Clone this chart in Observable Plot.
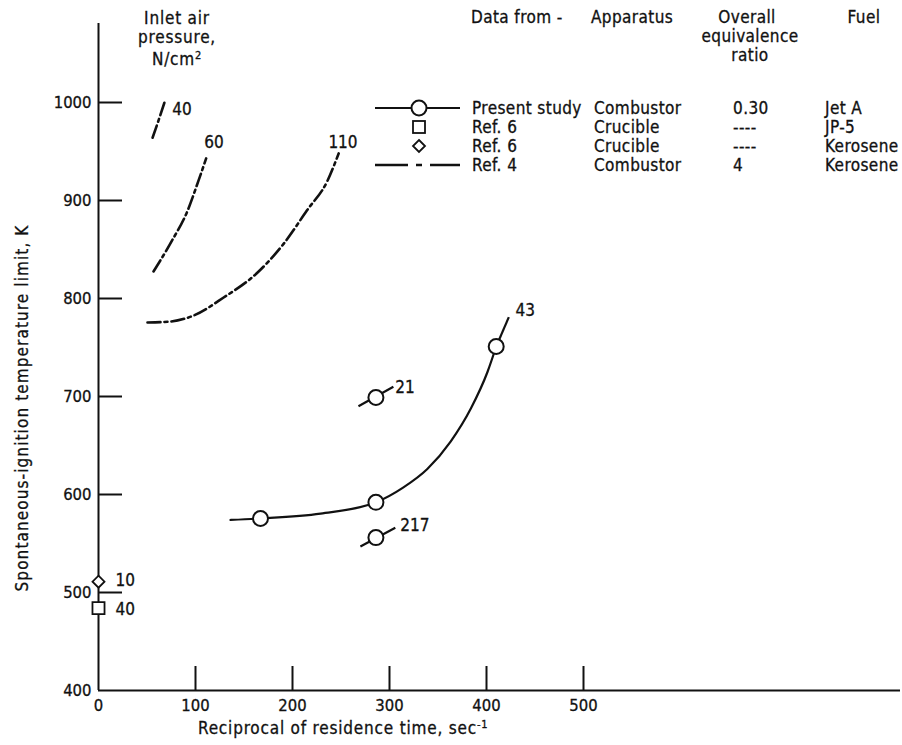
<!DOCTYPE html>
<html><head><meta charset="utf-8">
<script src="https://cdn.jsdelivr.net/npm/d3@7"></script>
<script src="https://cdn.jsdelivr.net/npm/@observablehq/plot@0.6"></script>
<style>
body{margin:0;background:#fff;}
#wrap{position:relative;width:902px;height:745px;background:#fff;font-family:"DejaVu Sans Condensed","Liberation Sans Narrow",sans-serif;color:#111;overflow:hidden;}
.t{position:absolute;white-space:nowrap;font-size:17px;line-height:1;letter-spacing:0.8px;-webkit-text-stroke:0.3px #111;}
.t.lg{letter-spacing:0.4px;}
.t sup{font-size:11px;position:relative;top:-1px;vertical-align:top;line-height:1;}
#lg{position:absolute;left:0;top:0;}
svg text{stroke:#111;stroke-width:0.3px;}
</style></head><body><div id="wrap"></div>
<script>
// ---- axis ticks ----
const xTicks = [0, 100, 200, 300, 400, 500];
const yTicks = [400, 500, 600, 700, 800, 900, 1000];

// ---- Present study (Jet A combustor), circles ----
const presentPtX = [167, 286, 410, 286, 286];
const presentPtY = [575.5, 592, 751, 699, 556];
// faired curve through present-study points
const presentCurveX = [136, 167, 229, 286, 314, 339, 363, 384, 401, 410];
const presentCurveY = [574, 575.5, 580.5, 592, 607, 626, 654, 688, 725, 751];
// pressure-tag tails on points (x1,y1 -> x2,y2)
const tailX1 = [268, 270, 410];
const tailY1 = [690, 547, 751];
const tailX2 = [304, 306, 423];
const tailY2 = [710, 566, 781];

// ---- Ref. 6 crucible ----
const squareX = [0], squareY = [484];     // JP-5
const diamondX = [0], diamondY = [511];   // Kerosene

// ---- Ref. 4 combustor curves, by inlet pressure ----
const ref4P40X = [55.7, 62, 68];
const ref4P40Y = [964, 982, 1000];
const ref4P60X = [56.7, 74, 92, 103, 111];
const ref4P60Y = [827.6, 856, 890, 920, 943];
const ref4P110X = [50.5, 74, 98, 129, 164, 191, 215, 236, 247.6];
const ref4P110Y = [775.5, 776.5, 782.6, 801, 826.5, 856, 890, 920, 948];

// ---- pressure labels, N/cm2 ----
const pLabelText = ["40", "60", "110", "43", "21", "217", "10", "40"];
const pLabelX = [76, 109, 237, 430, 306, 311, 17.5, 17.5];
const pLabelY = [993, 959, 959, 788, 709, 568, 512, 483];

// build tables
const zip = (xs, ys, extra = {}) => xs.map((x, i) => ({x, y: ys[i], ...extra}));
const ref4 = [
  ...zip(ref4P40X, ref4P40Y, {p: 40}),
  ...zip(ref4P60X, ref4P60Y, {p: 60}),
  ...zip(ref4P110X, ref4P110Y, {p: 110})
];
const presentCurve = zip(presentCurveX, presentCurveY);
const presentPts = zip(presentPtX, presentPtY);
const tails = tailX1.map((x1, i) => ({x1, y1: tailY1[i], x2: tailX2[i], y2: tailY2[i]}));
const labels = pLabelText.map((t, i) => ({t, x: pLabelX[i], y: pLabelY[i]}));

const W = 902, H = 745;
const mL = 98, mR = 2, mT = 23, mB = 55;
const pxX = 0.97, pxY = 0.98; // px per unit, from reference
const xMax = (W - mL - mR) / pxX;
const yMax = 400 + (H - mT - mB) / pxY;
const FONT = '"DejaVu Sans Condensed","Liberation Sans Narrow",sans-serif';

const chart = Plot.plot({
  width: W, height: H,
  marginLeft: mL, marginRight: mR, marginTop: mT, marginBottom: mB,
  style: {fontFamily: FONT, fontSize: "16px", background: "white", color: "#111", overflow: "visible"},
  x: {domain: [0, xMax]},
  y: {domain: [400, yMax]},
  marks: [
    Plot.ruleY([400], {strokeWidth: 2}),
    Plot.ruleX([0], {strokeWidth: 2}),
    Plot.ruleX(xTicks.slice(1), {x: d => d, y1: 400, y2: 400 + 24 / pxY, strokeWidth: 2}),
    Plot.ruleY(yTicks.slice(1), {y: d => d, x1: 0, x2: 24 / pxX, strokeWidth: 2}),
    Plot.axisX({ticks: xTicks, tickSize: 0, tickPadding: 9, tickFormat: d => String(d), label: null, fontSize: 16.5}),
    Plot.axisY({ticks: yTicks, tickSize: 0, tickPadding: 7, tickFormat: d => String(d), label: null, fontSize: 16.5}),
    Plot.line(ref4, {x: "x", y: "y", z: "p", curve: "monotone-x", stroke: "#111", strokeWidth: 2.6, strokeDasharray: "13,4,3,4"}),
    Plot.line(presentCurve, {x: "x", y: "y", curve: "monotone-x", stroke: "#111", strokeWidth: 2.2}),
    Plot.link(tails, {x1: "x1", y1: "y1", x2: "x2", y2: "y2", stroke: "#111", strokeWidth: 2.2}),
    Plot.dot(presentPts, {x: "x", y: "y", r: 7.5, fill: "white", stroke: "#111", strokeWidth: 2}),
    Plot.dot(zip(squareX, squareY), {x: "x", y: "y", symbol: "square", r: 6.8, fill: "white", stroke: "#111", strokeWidth: 1.8}),
    Plot.dot(zip(diamondX, diamondY), {x: "x", y: "y", symbol: "diamond2", r: 5.4, fill: "white", stroke: "#111", strokeWidth: 1.8}),
    Plot.text(labels, {x: "x", y: "y", text: "t", textAnchor: "start", fontSize: 17, fill: "#111"})
  ]
});

const wrap = document.getElementById("wrap");
wrap.appendChild(chart);

// ---- overlay texts (titles, legend table) ----
function put(html, x, y, anchor = "start", cls = "") {
  const d = document.createElement("div");
  d.className = "t" + (cls ? " " + cls : "");
  d.innerHTML = html;
  const tx = anchor === "middle" ? "-50%" : anchor === "end" ? "-100%" : "0";
  d.style.left = x + "px";
  d.style.top = y + "px";
  d.style.transform = `translate(${tx},-50%)`;
  wrap.appendChild(d);
  return d;
}
put("Inlet air", 177, 18, "middle");
put("pressure,", 177, 37, "middle");
put("N/cm<sup>2</sup>", 177, 59, "middle");

put("Reciprocal of residence time, sec<sup>-1</sup>", 198, 728);
// rotated y title
const yt = document.createElement("div");
yt.className = "t";
yt.textContent = "Spontaneous-ignition temperature limit, K";
yt.style.left = "22px"; yt.style.top = "408px";
yt.style.letterSpacing = "1.1px";
yt.style.transform = "translate(-50%,-50%) rotate(-90deg)";
wrap.appendChild(yt);

// legend headers
put("Data from -", 471, 17, "start", "lg");
put("Apparatus", 591, 17, "start", "lg");
put("Overall", 747, 17, "middle", "lg");
put("equivalence", 750, 36, "middle", "lg");
put("ratio", 750, 55, "middle", "lg");
put("Fuel", 864, 17, "middle", "lg");

const legSource = ["Present study", "Ref. 6", "Ref. 6", "Ref. 4"];
const legApparatus = ["Combustor", "Crucible", "Crucible", "Combustor"];
const legRatio = ["0.30", "----", "----", "4"];
const legFuel = ["Jet A", "JP-5", "Kerosene", "Kerosene"];
const rowY = [108, 127, 146, 165];
legSource.forEach((s, i) => {
  put(s, 472, rowY[i], "start", "lg");
  put(legApparatus[i], 594, rowY[i], "start", "lg");
  put(legRatio[i], 733, rowY[i], "start", "lg");
  put(legFuel[i], 825, rowY[i], "start", "lg");
});

// legend swatches
const NS = "http://www.w3.org/2000/svg";
const svg = document.createElementNS(NS, "svg");
svg.setAttribute("id", "lg");
svg.setAttribute("width", W); svg.setAttribute("height", H);
svg.innerHTML = `
<g stroke="#111" fill="none" stroke-width="2">
  <line x1="375" x2="460" y1="${rowY[0]}" y2="${rowY[0]}"/>
  <circle cx="419" cy="${rowY[0]}" r="7.5" fill="white"/>
  <rect x="413" y="${rowY[1]-6}" width="12" height="12" fill="white" stroke-width="1.8"/>
  <path d="M419,${rowY[2]-6}L425,${rowY[2]}L419,${rowY[2]+6}L413,${rowY[2]}Z" fill="white" stroke-width="1.8"/>
  <line x1="375" x2="460" y1="${rowY[3]}" y2="${rowY[3]}" stroke-width="2.4" stroke-dasharray="33,8,6,8,40"/>
</g>`;
wrap.appendChild(svg);
</script></body></html>
